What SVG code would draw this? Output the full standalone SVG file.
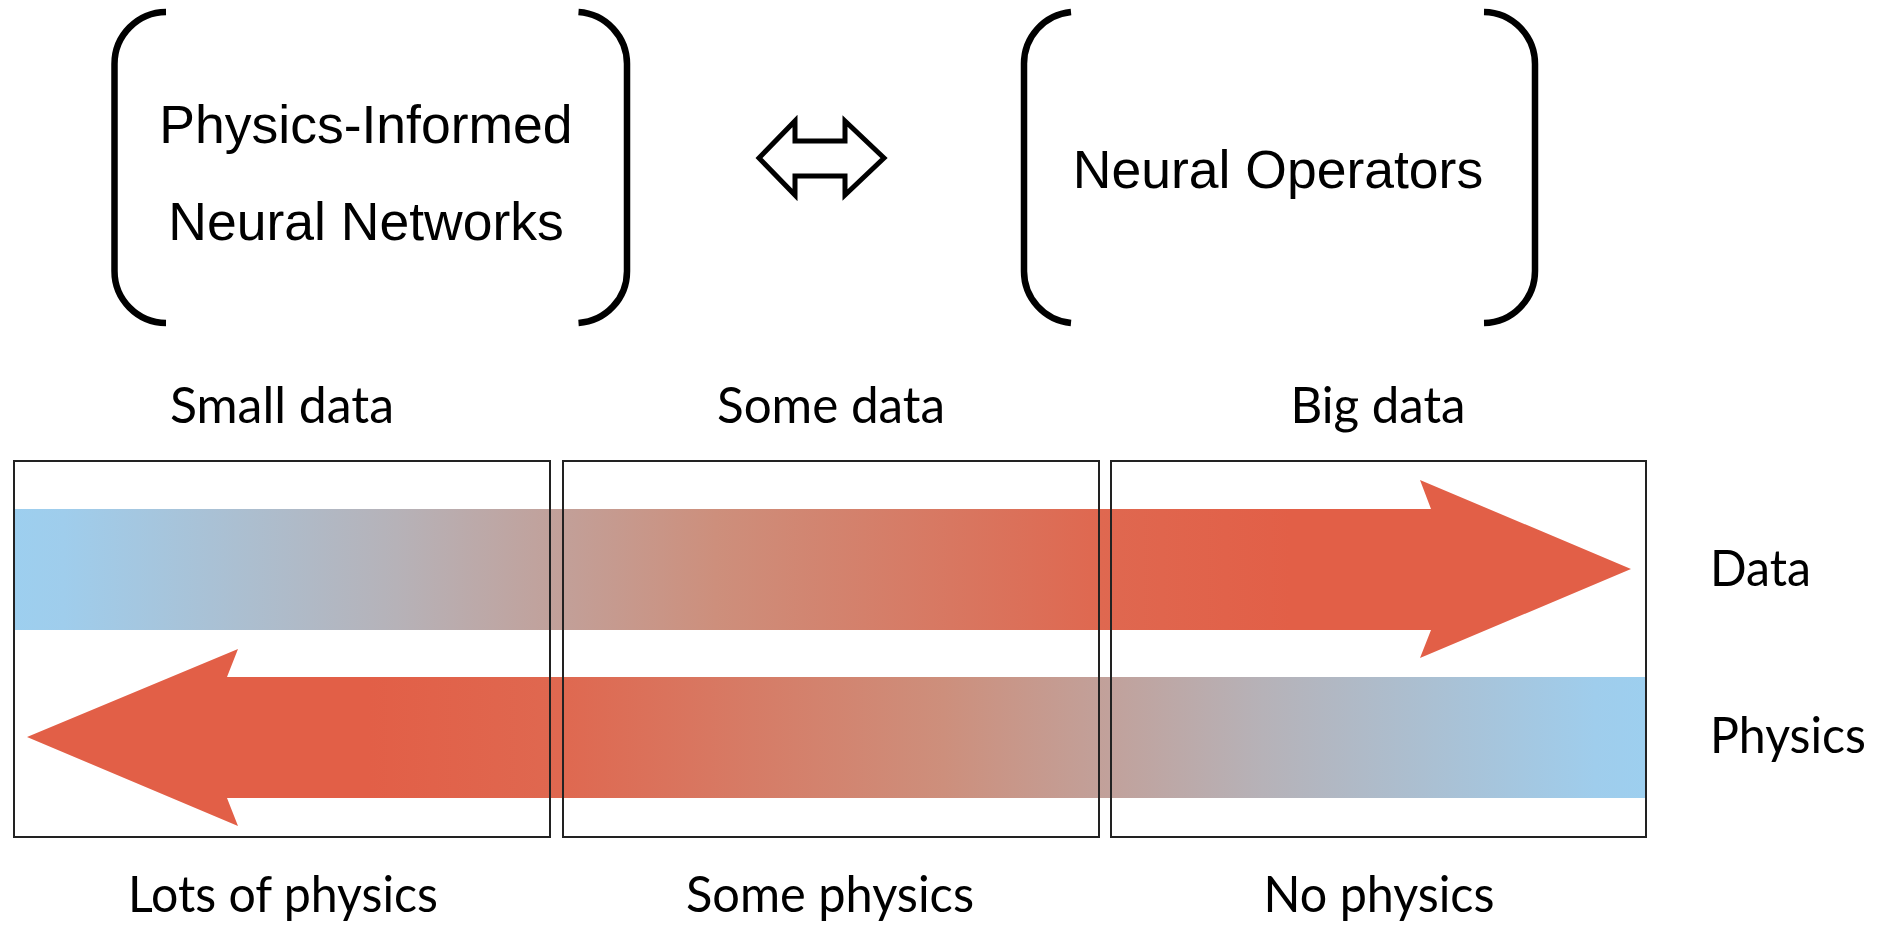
<svg xmlns="http://www.w3.org/2000/svg" width="1891" height="926" viewBox="0 0 1891 926">
  <style>
    .bracket { fill: none; stroke: #000; stroke-width: 6.5; stroke-linecap: butt; }
    .title { font-family: "Liberation Sans", Arial, sans-serif; font-size: 53.5px; fill: #000; text-anchor: middle; }
    .label { font-family: Lato, "Open Sans", sans-serif; font-size: 50px; fill: #000; }
    .mid { text-anchor: middle; }
    .panel { fill: none; stroke: #222; stroke-width: 2; }
    .swap { fill: #fff; stroke: #000; stroke-width: 5; stroke-linejoin: miter; }
  </style>
  <defs>
    <linearGradient id="gradData" gradientUnits="userSpaceOnUse" x1="13" y1="0" x2="1290" y2="0">
      <stop offset="0" stop-color="#9dcfef"/>
      <stop offset="0.04" stop-color="#9fcdec"/>
      <stop offset="0.3" stop-color="#b6b2b8"/>
      <stop offset="0.55" stop-color="#cd8f7c"/>
      <stop offset="0.85" stop-color="#df6850"/>
      <stop offset="1" stop-color="#e25f47"/>
    </linearGradient>
    <linearGradient id="gradPhysics" gradientUnits="userSpaceOnUse" x1="1646" y1="0" x2="369" y2="0">
      <stop offset="0" stop-color="#9dcfef"/>
      <stop offset="0.04" stop-color="#9fcdec"/>
      <stop offset="0.3" stop-color="#b6b2b8"/>
      <stop offset="0.55" stop-color="#cd8f7c"/>
      <stop offset="0.85" stop-color="#df6850"/>
      <stop offset="1" stop-color="#e25f47"/>
    </linearGradient>
  </defs>

  <!-- PINN block -->
  <g id="pinn">
    <path class="bracket" d="M166 12 A52 52 0 0 0 114.5 64 V271 A52 52 0 0 0 166 323"/>
    <path class="bracket" d="M578.5 12 A52 52 0 0 1 627 64 V271 A52 52 0 0 1 578.5 323"/>
    <text class="title" x="366" y="143">Physics-Informed</text>
    <text class="title" x="366" y="240">Neural Networks</text>
  </g>

  <!-- Neural operator block -->
  <g id="neural-operators">
    <path class="bracket" d="M1071 12 A52 52 0 0 0 1024 64 V271 A52 52 0 0 0 1071 323"/>
    <path class="bracket" d="M1484 12 A52 52 0 0 1 1535 64 V271 A52 52 0 0 1 1484 323"/>
    <text class="title" x="1278" y="188">Neural Operators</text>
  </g>

  <!-- two-way arrow between the blocks -->
  <g id="equivalence">
    <polygon class="swap" points="759,158 795,121 795,141 845,141 845,121 884,158 845,195 845,176 795,176 795,195"/>
  </g>

  <!-- column headings -->
  <g id="headings">
    <text class="label mid" x="282" y="423" textLength="224" lengthAdjust="spacingAndGlyphs">Small data</text>
    <text class="label mid" x="831" y="423" textLength="228" lengthAdjust="spacingAndGlyphs">Some data</text>
    <text class="label mid" x="1378" y="423" textLength="175" lengthAdjust="spacingAndGlyphs">Big data</text>
  </g>

  <!-- gradient arrows -->
  <g id="connectors">
    <polygon id="data-arrow" fill="url(#gradData)" points="13,509 1431,509 1420,480 1631,569 1420,658 1431,630 13,630"/>
    <polygon id="physics-arrow" fill="url(#gradPhysics)" points="1646,677 227,677 238,649 27,737 238,826 227,798 1646,798"/>
  </g>

  <!-- regime panels -->
  <g id="panels">
    <rect class="panel" x="14" y="461" width="536" height="376"/>
    <rect class="panel" x="563" y="461" width="536" height="376"/>
    <rect class="panel" x="1111" y="461" width="535" height="376"/>
  </g>

  <!-- row labels -->
  <g id="row-labels">
    <text class="label" x="1710" y="586" textLength="101" lengthAdjust="spacingAndGlyphs">Data</text>
    <text class="label" x="1710" y="753" textLength="156" lengthAdjust="spacingAndGlyphs">Physics</text>
  </g>

  <!-- column footers -->
  <g id="footers">
    <text class="label mid" x="283" y="912" textLength="310" lengthAdjust="spacingAndGlyphs">Lots of physics</text>
    <text class="label mid" x="830" y="912" textLength="288" lengthAdjust="spacingAndGlyphs">Some physics</text>
    <text class="label mid" x="1379" y="912" textLength="231" lengthAdjust="spacingAndGlyphs">No physics</text>
  </g>
</svg>
